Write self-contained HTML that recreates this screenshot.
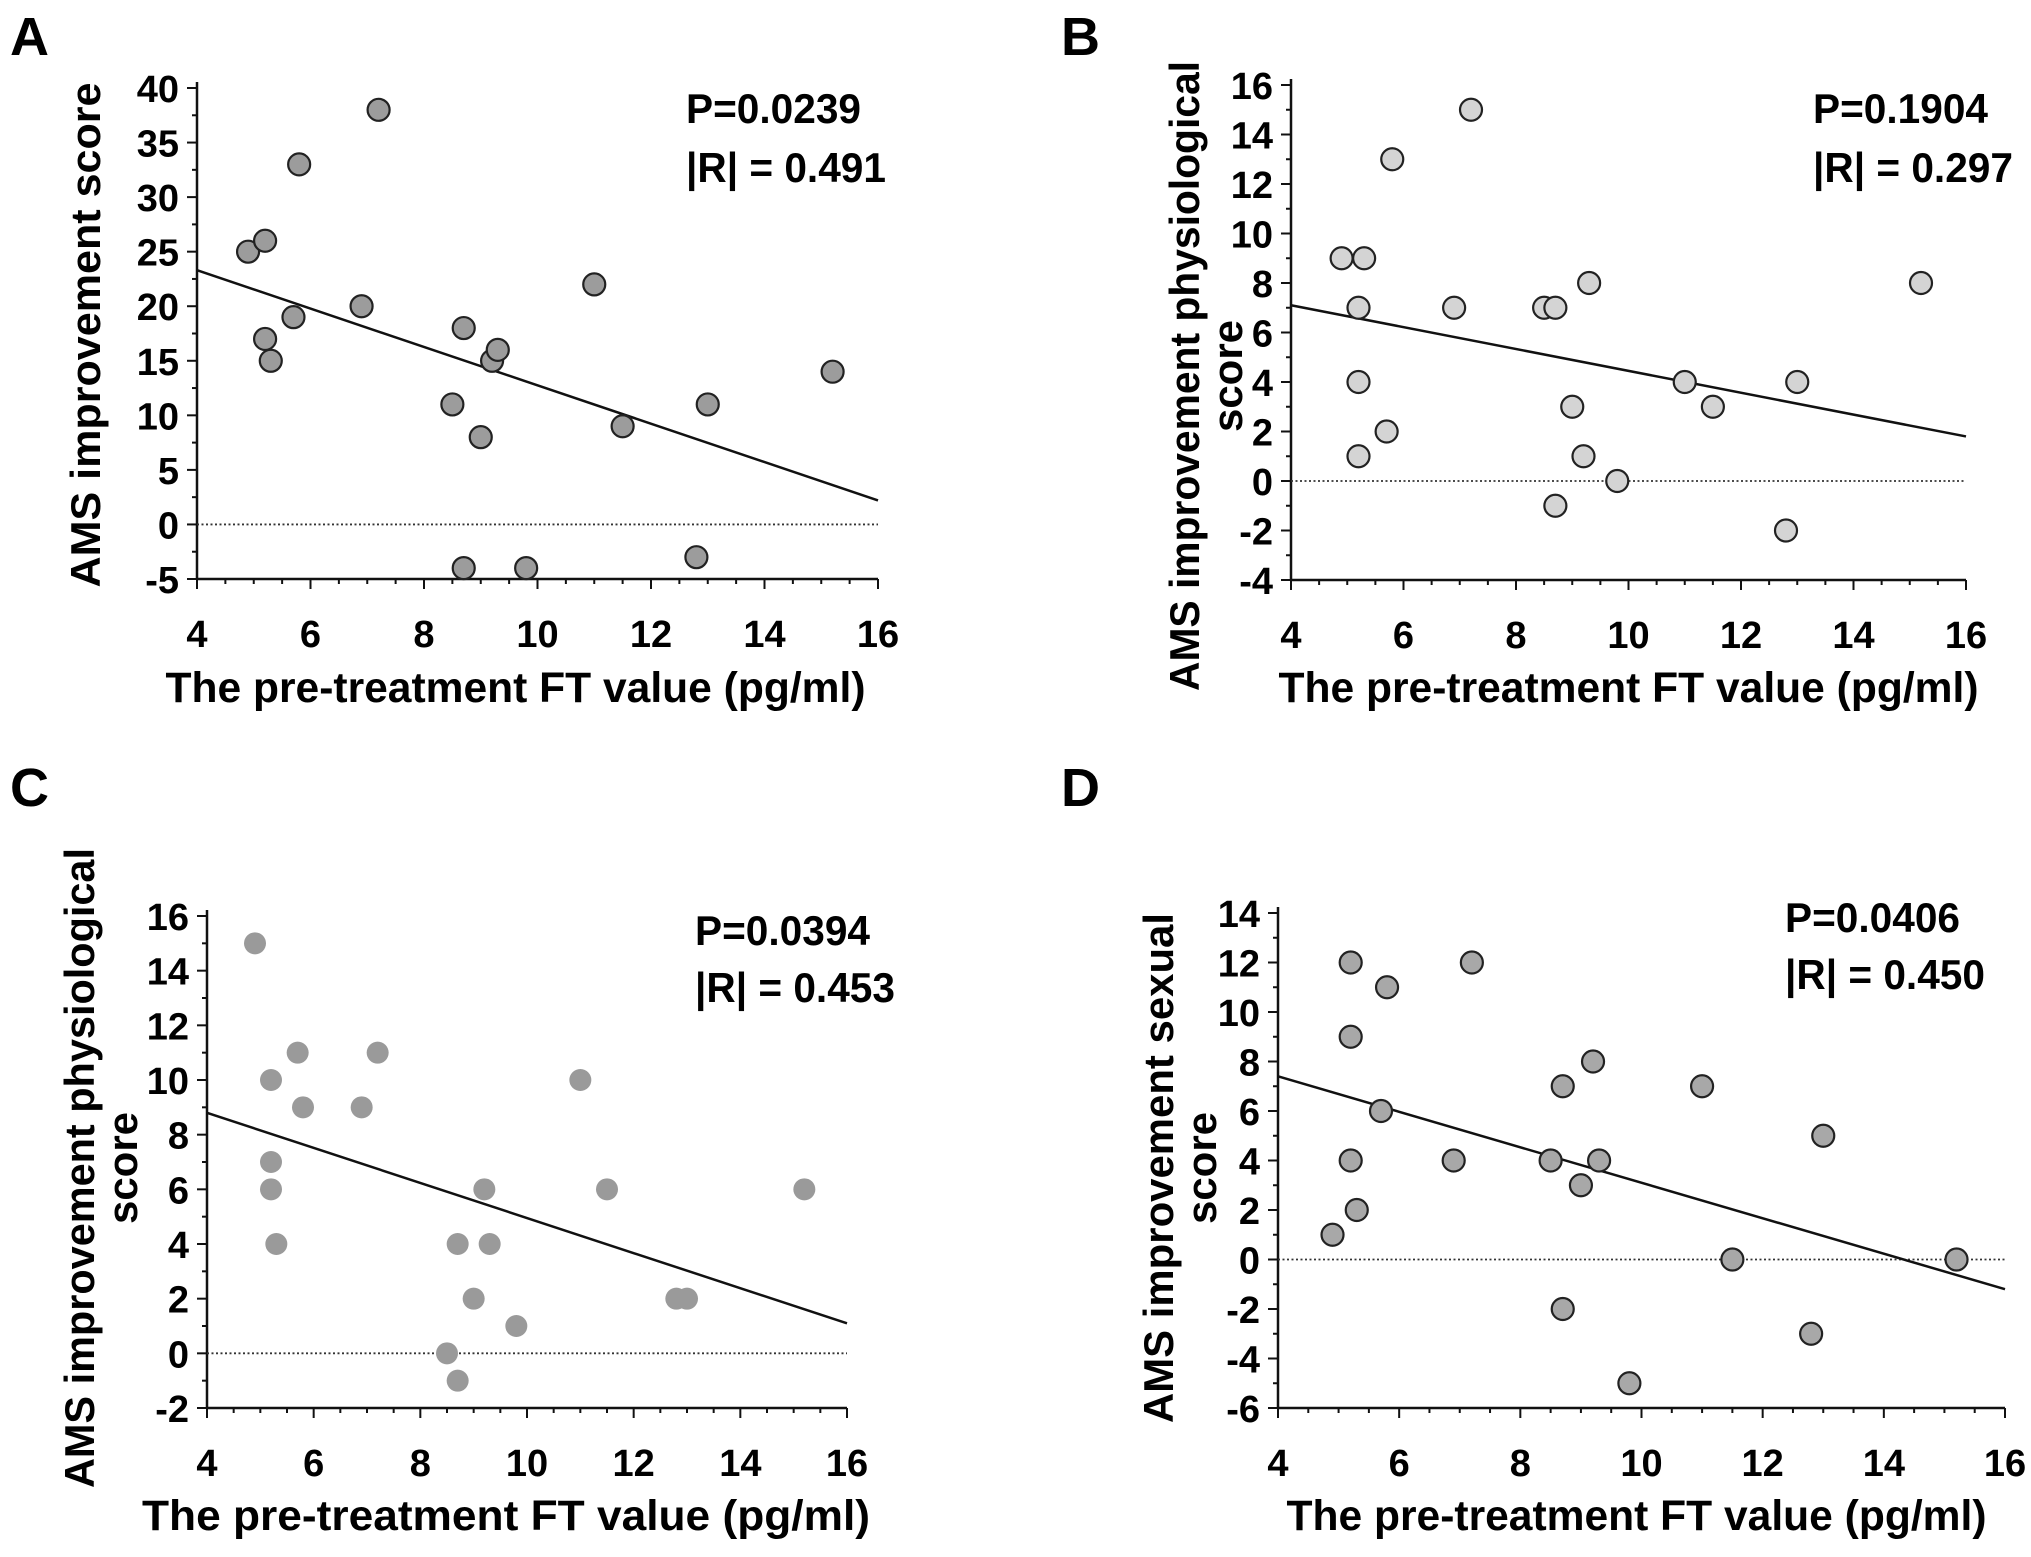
<!DOCTYPE html>
<html><head><meta charset="utf-8"><style>
html,body{margin:0;padding:0;background:#fff;}
svg{display:block;font-family:"Liberation Sans",Arial,sans-serif;font-weight:bold;}
</style></head><body>
<svg id="fig" width="2031" height="1557" viewBox="0 0 2031 1557" xmlns="http://www.w3.org/2000/svg">
<text x="10" y="55" font-size="54">A</text>
<text x="1061" y="55" font-size="54">B</text>
<text x="10" y="806" font-size="54">C</text>
<text x="1061" y="806" font-size="54">D</text>
</svg>
<script>
const xsA=[4.9,5.2,5.2,5.3,5.7,5.8,6.9,7.2,8.5,8.7,8.7,9.0,9.2,9.3,9.8,11.0,11.5,12.8,13.0,15.2];
const ysA=[25,26,17,15,19,33,20,38,11,18,-4,8,15,16,-4,22,9,-3,11,14];
const fitA=[23.3,2.2];
const xsB=[4.9,5.2,5.2,5.2,5.3,5.7,5.8,6.9,7.2,8.5,8.7,8.7,9.0,9.2,9.3,9.8,11.0,11.5,12.8,13.0,15.2];
const ysB=[9,7,4,1,9,2,13,7,15,7,7,-1,3,1,8,0,4,3,-2,4,8];
const fitB=[7.1,1.8];
const xsC=[4.9,5.2,5.2,5.2,5.3,5.7,5.8,6.9,7.2,8.5,8.7,8.7,9.0,9.2,9.3,9.8,11.0,11.5,12.8,13.0,15.2];
const ysC=[15,10,7,6,4,11,9,9,11,0,4,-1,2,6,4,1,10,6,2,2,6];
const fitC=[8.8,1.1];
const xsD=[4.9,5.2,5.2,5.2,5.3,5.7,5.8,6.9,7.2,8.5,8.7,8.7,9.0,9.2,9.3,9.8,11.0,11.5,12.8,13.0,15.2];
const ysD=[1,12,9,4,2,6,11,4,12,4,7,-2,3,8,4,-5,7,0,-3,5,0];
const fitD=[7.4,-1.2];
const xTicks=[4,6,8,10,12,14,16];
const yTicksA=[-5,0,5,10,15,20,25,30,35,40];
const yTicksB=[-4,-2,0,2,4,6,8,10,12,14,16];
const yTicksC=[-2,0,2,4,6,8,10,12,14,16];
const yTicksD=[-6,-4,-2,0,2,4,6,8,10,12,14];
const statsA=["P=0.0239","|R| = 0.491"];
const statsB=["P=0.1904","|R| = 0.297"];
const statsC=["P=0.0394","|R| = 0.453"];
const statsD=["P=0.0406","|R| = 0.450"];

const NS="http://www.w3.org/2000/svg";
const svg=document.getElementById('fig');
function mk(tag,attrs,parent){const e=document.createElementNS(NS,tag);for(const k in attrs)e.setAttribute(k,attrs[k]);(parent||svg).appendChild(e);return e;}

function panel(id,cfg,xs,ys,fit,yt,stats){
  const g=mk('g',{});
  
  
  const [x0,x1]=cfg.px,[y0,y1]=cfg.py;
  const ymin=yt[0],ymax=yt[yt.length-1];
  const sx=v=>x0+(v-4)/12*(x1-x0);
  const sy=v=>y0+(ymax-v)/(ymax-ymin)*(y1-y0);
  const ya=mk('line',{x1:x0,y1:y0-6,x2:x0,y2:y1,stroke:'#111','stroke-width':2.5},g);
  
  const xa=mk('line',{x1:x0,y1:y1,x2:x1,y2:y1,stroke:'#111','stroke-width':2.5},g);
  
  for(let v=4;v<=16.001;v+=0.5){const major=Math.abs(v-Math.round(v/2)*2)<1e-6;
    mk('line',{x1:sx(v),y1:y1,x2:sx(v),y2:y1+(major?10:5),stroke:'#111','stroke-width':2},g);}
  xTicks.forEach(v=>{const t=mk('text',{x:sx(v),y:y1+68,'text-anchor':'middle','font-size':38},g);t.textContent=v;
    });
  const step=yt[1]-yt[0];
  for(let v=ymin;v<=ymax+1e-6;v+=step/2){const major=Math.abs(((v-ymin)/step)-Math.round((v-ymin)/step))<1e-6;
    mk('line',{x1:x0,y1:sy(v),x2:x0-(major?10:5),y2:sy(v),stroke:'#111','stroke-width':2},g);}
  yt.forEach(v=>{const t=mk('text',{x:x0-18,y:sy(v)+14,'text-anchor':'end','font-size':38},g);t.textContent=v;
    });
  const z=mk('line',{x1:sx(4),y1:sy(0),x2:sx(16),y2:sy(0),stroke:'#333','stroke-width':1.8,'stroke-dasharray':'2,2.5'},g);
  
  const fl=mk('line',{x1:sx(4),y1:sy(fit[0]),x2:sx(16),y2:sy(fit[1]),stroke:'#111','stroke-width':2.5},g);
  
  xs.forEach((v,i)=>{const c=mk('circle',{cx:sx(v),cy:sy(ys[i]),r:11,fill:cfg.fill,stroke:cfg.stroke,'stroke-width':cfg.stroke==='none'?0:2.2},g);
    });
  stats.forEach((s,i)=>{const t=mk('text',{x:cfg.st[0],y:cfg.st[1]+i*cfg.st[2],'font-size':42,textLength:i?200:175,lengthAdjust:'spacingAndGlyphs'},g);t.textContent=s;
    });
  const xt=mk('text',{x:(x0+x1)/2+cfg.xtOff,y:cfg.xtY,'text-anchor':'middle','font-size':43,textLength:cfg.xtLen,lengthAdjust:'spacingAndGlyphs'},g);
  xt.textContent='The pre-treatment FT value (pg/ml)';
  
  cfg.yl.forEach((l,i)=>{const t=mk('text',{x:0,y:0,'text-anchor':'middle','font-size':42,transform:`translate(${l[1]},${l[2]}) rotate(-90)`},g);
    t.textContent=l[0];
    if(l[3]){t.setAttribute('textLength',l[3]);t.setAttribute('lengthAdjust','spacingAndGlyphs');}
    });
}
panel('a',{px:[197,878],py:[88,579],fill:'#9c9c9c',stroke:'#222',st:[686,123,59],xtOff:-22,xtY:702,xtLen:700,
  yl:[['AMS improvement score',100,335,505]]},xsA,ysA,fitA,yTicksA,statsA);
panel('b',{px:[1291,1966],py:[85,580],fill:'#d4d4d4',stroke:'#222',st:[1813,123,59],xtOff:0,xtY:702,xtLen:700,
  yl:[['AMS improvement physiological',1199,376,630],['score',1242,376]]},xsB,ysB,fitB,yTicksB,statsB);
panel('c',{px:[207,847],py:[916,1408],fill:'#9a9a9a',stroke:'none',st:[695,945,57],xtOff:-21,xtY:1530,xtLen:728,
  yl:[['AMS improvement physiological',94,1168,640],['score',137,1168]]},xsC,ysC,fitC,yTicksC,statsC);
panel('d',{px:[1278,2005],py:[913,1408],fill:'#a8a8a8',stroke:'#222',st:[1785,932,57],xtOff:-5,xtY:1530,xtLen:700,
  yl:[['AMS improvement sexual',1173,1168,510],['score',1216,1168]]},xsD,ysD,fitD,yTicksD,statsD);
</script>
</body></html>
